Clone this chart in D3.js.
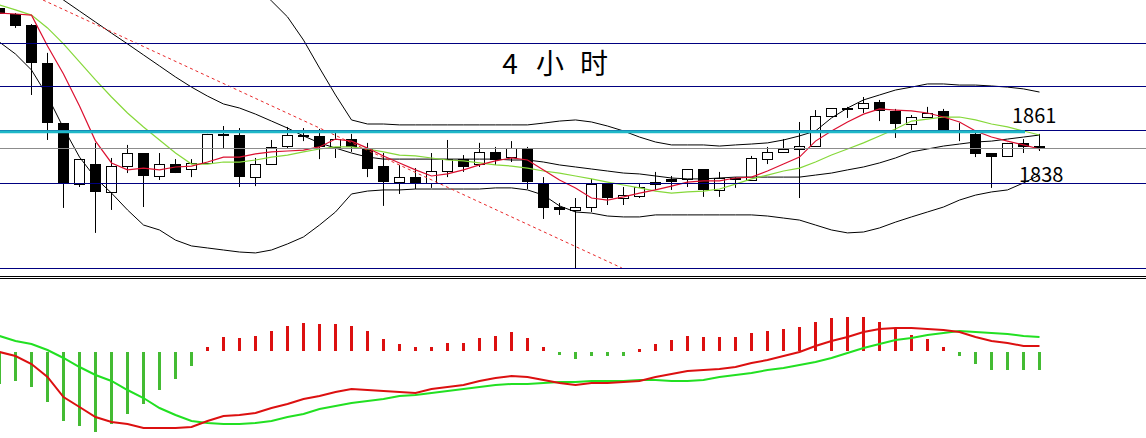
<!DOCTYPE html>
<html><head><meta charset="utf-8">
<script src="https://cdn.jsdelivr.net/npm/d3@7"></script>
<style>html,body{margin:0;padding:0;background:#fff;}svg{display:block;}</style>
</head><body>
<script>
// ---------- DATA ----------
const opens  = [1915.6,1912.9,1908,1891.1,1864.4,1837.3,1846.2,1833.8,1845.3,1851.1,1840.9,1846.2,1844,1846.7,1859.6,1859.1,1840.4,1846.2,1854.2,1859.1,1858.7,1853.8,1857.3,1853.3,1845.3,1838.2,1840.4,1837.8,1843.1,1848.4,1846.2,1851.6,1849.3,1853.3,1837.8,1827.1,1825.8,1827.1,1837.3,1831.1,1832,1837.3,1839.6,1839.6,1844,1834.7,1840,1839.1,1848.4,1851.6,1852.9,1854.2,1867.6,1871.1,1871.1,1873.8,1869.8,1864,1867.1,1869.8,1860.9,1859.6,1851.1,1849.8,1855.6,1854.2];
const highs  = [1916.4,1913.3,1908.4,1895.6,1864.4,1848.4,1855.6,1848.9,1854.7,1851.1,1851.1,1848.4,1848.4,1859.6,1863.1,1862.2,1848.9,1856.9,1862.7,1862.2,1861.8,1860,1859.6,1855.6,1851.1,1845.8,1844.4,1851.1,1856.9,1850.2,1855.6,1853.8,1856.4,1853.8,1840.4,1828.9,1831.1,1839.6,1837.3,1836,1837.8,1842.7,1840.9,1844,1844,1842.7,1840.4,1849.8,1853.8,1857.3,1864.9,1870.2,1871.1,1871.6,1876,1874.7,1870.7,1868,1871.6,1870.7,1864.4,1861.3,1851.1,1855.6,1857.3,1859.6];
const lows   = [1912.4,1906.7,1876.9,1856.9,1826.7,1836,1815.6,1825.8,1842.2,1827.1,1839.1,1842.2,1840.4,1846.7,1852.9,1836,1836.4,1846.2,1852.9,1856.4,1848.4,1848.9,1851.6,1840.4,1827.6,1832.9,1835.1,1835.6,1840.4,1842.7,1844.9,1845.8,1847.1,1835.1,1821.8,1823.6,1800,1824.9,1828,1828,1831.1,1834.7,1834.7,1836,1831.6,1831.6,1835.6,1839.1,1846.2,1851.1,1831.1,1854.2,1867.6,1866.7,1868.9,1865.3,1857.8,1860.9,1867.1,1860.4,1856.4,1849.3,1835.6,1849.8,1851.1,1852];
const closes = [1912.9,1907.6,1891.1,1864.4,1837.3,1848.4,1833.8,1845.3,1851.1,1840.9,1846.2,1842.2,1846.7,1859.6,1859.1,1840.4,1846.2,1853.8,1859.1,1858.7,1853.8,1857.3,1853.8,1844,1838.2,1840.4,1837.8,1843.1,1848.4,1844.9,1851.6,1848,1853.3,1838.2,1826.7,1825.8,1827.1,1837.3,1831.1,1832.4,1836,1838.2,1838.2,1844,1834.7,1840,1839.1,1848.9,1851.6,1852.9,1854.2,1867.6,1871.1,1870.2,1873.3,1869.8,1864,1867.1,1868.9,1860.4,1860.4,1850.7,1849.3,1855.6,1853.8,1852.9];

const maShort = [1913.3,1912.9,1912.4,1898.7,1886.2,1872,1856.4,1846.7,1843.6,1844.4,1843.6,1844.9,1845.3,1847.1,1849.3,1849.3,1850.7,1851.6,1852,1852.4,1853.8,1857.3,1856.4,1853.3,1849.8,1846.7,1843.6,1840.9,1841.8,1843.6,1845.8,1847.6,1848.9,1848,1843.6,1839.1,1835.6,1831.1,1830.2,1831.6,1833.3,1834.7,1836.4,1838.2,1838.7,1838.7,1840,1840.4,1843.1,1846.2,1849.3,1856.4,1860.9,1864.9,1868.4,1870.7,1870.2,1869.8,1868.9,1867.1,1864.9,1860.9,1858.2,1856.4,1854.7,1852.9];
const maLong  = [1916.9,1914.7,1912.4,1906.7,1899.6,1891.6,1883.6,1876,1868.9,1862.7,1856.9,1851.1,1846.2,1846.2,1847.1,1847.1,1848,1849.3,1850.2,1851.6,1852.9,1853.8,1853.8,1852.9,1851.6,1850.2,1849.8,1848.9,1848,1847.6,1846.7,1845.8,1845.3,1844.4,1843.1,1842.2,1840.9,1839.6,1838.2,1836.9,1835.6,1834.2,1833.3,1833.8,1834.2,1835.1,1837.3,1839.6,1841.3,1843.1,1844.4,1847.1,1850.2,1852.9,1855.6,1858.7,1861.8,1865.3,1866.2,1867.1,1867.1,1865.8,1864,1862.7,1860.9,1859.1];
const bandUpper = [null,null,null,null,null,null,null,null,null,null,null,null,null,null,null,null,1925.8,1918.7,1911.6,1901.3,1888.9,1876.9,1865.8,1864,1864,1863.6,1863.6,1863.6,1863.6,1863.6,1863.6,1863.6,1863.6,1863.6,1864.4,1865.3,1865.8,1864.9,1863.1,1860.9,1858.2,1856,1854.7,1854.7,1854.7,1854.2,1854.7,1855.1,1855.6,1856.9,1858.7,1860.9,1866.7,1871.1,1874.7,1876.9,1879.1,1880.4,1881.8,1881.8,1881.3,1881.3,1880.9,1880.4,1879.6,1878.2];
const bandMid = [null,null,null,1924,1919.1,1914.2,1909.3,1904.4,1899.6,1894.7,1889.8,1884.9,1880.4,1876.4,1872.9,1871.1,1868.4,1865.3,1862.2,1858.7,1855.6,1853.3,1851.1,1849.3,1848.4,1848.4,1848.4,1848.4,1848.4,1848.4,1848.4,1848.4,1848,1848,1847.1,1845.8,1844.9,1844,1843.1,1842.2,1841.8,1840.9,1840,1839.6,1839.6,1840,1840.4,1840.4,1840.4,1840.4,1840.4,1841.3,1842.2,1843.6,1844.9,1846.7,1848.9,1851.6,1852.9,1854.2,1855.1,1856,1856.4,1857.3,1858.2,1859.1];
const bandLower = [1900.4,1895.1,1888,1876.4,1862.2,1849.3,1840,1833.3,1825.8,1819.1,1816.9,1812.4,1809.8,1808.9,1808,1807.1,1806.7,1808,1810.7,1813.8,1819.1,1824.9,1832.9,1834.2,1834.7,1834.7,1835.1,1835.1,1835.1,1835.1,1835.1,1835.6,1835.6,1834.7,1832.4,1827.6,1824.9,1824.4,1823.1,1822.7,1822.7,1823.6,1823.6,1823.6,1823.6,1823.6,1823.6,1823.6,1823.1,1822.2,1821.3,1819.1,1816.9,1815.6,1816,1817.8,1820.4,1822.7,1824.9,1827.1,1830.2,1832.4,1833.8,1834.7,1837.8,1841.3];

// trend line (index, price) end points
const trendIdx   = [2.72, 38.9];
const trendPrice = [1919.1, 1800];

// horizontal price levels
const navyLevels = [1900, 1881, 1861.5, 1838, 1800];
const cyanLevel  = 1860.6;
const grayLevel  = 1853.3;
const levelLabels = ["1861", "1838"];

// MACD
const macdHist = [-16,-14.5,-17.5,-25,-34.5,-37,-40,-36,-31,-26,-19,-13.5,-7,2,7,6.5,7.5,10,12.5,14,13.5,13.5,12.5,10,6,3.5,2,2,4,4,6.5,7.5,9.5,6.5,2,-1.5,-3.5,-2,-2,-2,1,3.5,5.5,7.5,7,7,7,9,10,11,12,14.5,16.5,17,17,14.5,11.5,8,6,2,-2,-6,-9,-9,-9,-9];
const macdDif  = [-0.5,-2.5,-6.5,-13,-23,-28,-33,-35.5,-36.5,-38.5,-38.5,-38.5,-38,-35,-32.5,-32,-31,-28.5,-26.5,-24,-22.5,-20.5,-19,-19.5,-20,-20.5,-21,-19,-18,-17,-15,-13.5,-12.5,-13,-14.5,-16,-17,-16,-16,-15.5,-15,-13,-11.5,-10,-9.5,-9,-8,-6,-4.5,-2.5,-0.5,2.5,5,7,9.5,11,11.5,11.5,11,10.5,9.5,7,5,4,2.5,2.5];
const macdDea  = [7.5,5,3.5,0.5,-3.5,-8,-12,-15,-19.5,-23.5,-28.5,-32,-35,-36,-36.5,-36.5,-36,-35,-33,-31.5,-29,-27.5,-26,-25,-24,-22.5,-22,-21,-20,-19,-18,-17,-16.5,-16.5,-16,-15.5,-15.5,-15,-15,-15,-14.5,-14.5,-15,-15,-14.5,-13,-12,-11,-9.5,-8.5,-7,-5.5,-3.5,-1,1.5,3.5,5.5,6.5,8,9,10,9.5,9,8.5,7.5,7];

const titleChars = ["4", "小", "时"];

// ---------- CHART ----------
const W = 1146, H = 438;
const svg = d3.select("body").append("svg").attr("width", W).attr("height", H);

const n = closes.length;
const x = d3.scaleLinear().domain([0, n - 1]).range([-0.5, 1039.5]);
const y = d3.scaleLinear().domain([1800, 1900]).range([268, 43]);
const ym = d3.scaleLinear().domain([0, 10]).range([351, 331]);

svg.append("defs").append("clipPath").attr("id", "topclip")
  .append("rect").attr("x", 0).attr("y", 0).attr("width", W).attr("height", 272);

const priceG = svg.append("g").attr("clip-path", "url(#topclip)");

// candles
const idx = d3.range(n);
const isUp = i => closes[i] >= opens[i];
priceG.selectAll("line.wick").data(idx).join("line").attr("class", "wick")
  .attr("x1", i => x(i)).attr("x2", i => x(i))
  .attr("y1", i => y(highs[i])).attr("y2", i => y(lows[i]))
  .attr("stroke", "#000").attr("stroke-width", 1);
priceG.selectAll("rect.body").data(idx).join("rect").attr("class", "body")
  .attr("x", i => isUp(i) ? x(i) - 5 : x(i) - 5.5)
  .attr("width", i => isUp(i) ? 10 : 11)
  .attr("y", i => {
    const t = y(Math.max(opens[i], closes[i]));
    return isUp(i) ? Math.round(t) + 0.5 : Math.round(t);
  })
  .attr("height", i => Math.max(2, Math.round(Math.abs(y(opens[i]) - y(closes[i])))))
  .attr("fill", i => isUp(i) ? "#fff" : "#000")
  .attr("stroke", i => isUp(i) ? "#000" : "none")
  .attr("stroke-width", 1);

// indicator lines
function drawSeries(arr, color, width) {
  const line = d3.line()
    .defined(d => d != null)
    .x((d, i) => x(i)).y(d => y(d));
  priceG.append("path").datum(arr).attr("d", line)
    .attr("fill", "none").attr("stroke", color).attr("stroke-width", width);
}
drawSeries(bandUpper, "#000", 1);
drawSeries(bandMid, "#000", 1);
drawSeries(bandLower, "#000", 1);
drawSeries(maLong, "#86d83a", 1.2);
drawSeries(maShort, "#dc1030", 1.2);

// trend line
priceG.append("line")
  .attr("x1", x(trendIdx[0])).attr("y1", y(trendPrice[0]))
  .attr("x2", x(trendIdx[1])).attr("y2", y(trendPrice[1]))
  .attr("stroke", "#e8282a").attr("stroke-width", 1).attr("stroke-dasharray", "3,3");

// horizontal levels
svg.selectAll("line.navy").data(navyLevels).join("line").attr("class", "navy")
  .attr("x1", 0).attr("x2", W)
  .attr("y1", d => Math.round(y(d)) + 0.5).attr("y2", d => Math.round(y(d)) + 0.5)
  .attr("stroke", "#000080").attr("stroke-width", 1);
svg.append("line").attr("x1", 0).attr("x2", W)
  .attr("y1", Math.round(y(grayLevel)) + 0.5).attr("y2", Math.round(y(grayLevel)) + 0.5)
  .attr("stroke", "#8c8c8c").attr("stroke-width", 1);
svg.append("line").attr("x1", 0).attr("x2", 1025)
  .attr("y1", y(cyanLevel)).attr("y2", y(cyanLevel))
  .attr("stroke", "#1fb8c8").attr("stroke-width", 3);

// separator
[276.5, 278.5].forEach(v => svg.append("line").attr("x1", 0).attr("x2", W)
  .attr("y1", v).attr("y2", v).attr("stroke", "#000").attr("stroke-width", 1));

// texts
const tx = [510, 550, 594];
svg.selectAll("text.title").data(titleChars).join("text").attr("class", "title")
  .attr("x", (d, i) => tx[i]).attr("y", 74)
  .attr("text-anchor", "middle")
  .attr("font-family", "'Noto Sans CJK SC', sans-serif")
  .attr("font-size", 28).attr("fill", "#000").text(d => d);
svg.append("text").attr("x", 1012).attr("y", 123)
  .attr("font-family", "'Noto Sans CJK SC', sans-serif").attr("font-size", 20)
  .attr("fill", "#000").text(levelLabels[0]);
svg.append("text").attr("x", 1019).attr("y", 182)
  .attr("font-family", "'Noto Sans CJK SC', sans-serif").attr("font-size", 20)
  .attr("fill", "#000").text(levelLabels[1]);

// MACD
const macdG = svg.append("g");
macdG.selectAll("rect.hist").data(idx).join("rect").attr("class", "hist")
  .attr("x", i => x(i) - 1.5).attr("width", 3)
  .attr("y", i => macdHist[i] >= 0 ? ym(macdHist[i]) : ym(0) + 1)
  .attr("height", i => Math.max(3, Math.abs(ym(macdHist[i]) - ym(0))))
  .attr("fill", i => macdHist[i] >= 0 ? "#dc1010" : "#44bb33");
const ml = d3.line().x((d, i) => x(i)).y(d => ym(d));
macdG.append("path").datum(macdDea).attr("d", ml).attr("fill", "none")
  .attr("stroke", "#22e022").attr("stroke-width", 2);
macdG.append("path").datum(macdDif).attr("d", ml).attr("fill", "none")
  .attr("stroke", "#dc1010").attr("stroke-width", 2);
</script>
</body></html>
